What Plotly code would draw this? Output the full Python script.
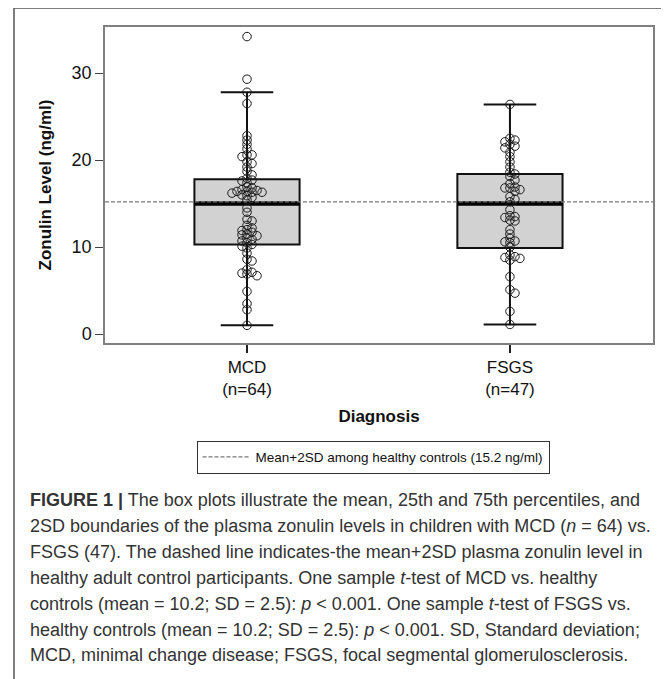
import plotly.graph_objects as go

# ---------------- data ----------------
categories = ["MCD", "FSGS"]
n_labels = ["(n=64)", "(n=47)"]

mcd_values = [34.2, 29.3, 27.8, 26.5,
              22.8, 22.3, 21.8, 21.3,
              20.6, 20.6, 20.4, 19.8, 19.6,
              19.2, 18.7, 18.3, 17.9, 17.7, 17.6, 17.4,
              16.9, 16.8, 16.6, 16.5, 16.4, 16.4, 16.3, 16.3, 16.2,
              16.0, 15.9, 15.7, 15.4, 14.5, 14.0,
              13.2, 13.0, 12.5, 12.2, 12.0, 11.9, 11.7, 11.5, 11.4, 11.3,
              11.0, 10.9, 10.7, 10.5, 10.3, 10.1, 9.9, 9.3,
              8.6, 8.4, 7.4, 7.1, 7.0, 6.9, 6.7,
              4.9, 3.5, 2.8, 1.0]

fsgs_values = [26.4,
               22.5, 22.3, 22.1, 21.8, 21.6, 21.4, 20.9, 20.4, 19.8, 19.2,
               18.6, 18.4, 18.1, 17.7, 17.3,
               16.9, 16.8, 16.8, 16.6, 16.4, 15.8, 15.5, 15.2,
               14.3, 13.6, 13.5, 13.4, 13.1, 13.0,
               12.0, 11.5, 11.0, 10.7, 10.6, 10.5, 10.0,
               9.1, 8.9, 8.8, 8.7, 8.5,
               6.6, 5.1, 4.7, 2.6, 1.1]

q1 = [10.3, 9.9]
median = [15.0, 15.0]
q3 = [17.8, 18.4]
lower_whisker = [1.0, 1.1]
upper_whisker = [27.8, 26.4]
reference_value = 15.2
reference_label = "Mean+2SD among healthy controls (15.2 ng/ml)"
y_ticks = [0, 10, 20, 30]

caption_lines = [
    "<b>FIGURE 1 |</b> The box plots illustrate the mean, 25th and 75th percentiles, and",
    "2SD boundaries of the plasma zonulin levels in children with MCD (<i>n</i> = 64) vs.",
    "FSGS (47). The dashed line indicates-the mean+2SD plasma zonulin level in",
    "healthy adult control participants. One sample <i>t</i>-test of MCD vs. healthy",
    "controls (mean = 10.2; SD = 2.5): <i>p</i> < 0.001. One sample <i>t</i>-test of FSGS vs.",
    "healthy controls (mean = 10.2; SD = 2.5): <i>p</i> < 0.001. SD, Standard deviation;",
    "MCD, minimal change disease; FSGS, focal segmental glomerulosclerosis.",
]

# ---------------- layout geometry ----------------
W, H = 669, 679
OFF = 8  # page body margin
L, R, T, B = 105 - OFF, 653 - OFF, 27 - OFF, 343 - OFF
x_range = [-0.54, 1.544]
y_range = [-1.03, 35.3]
box_width = 0.40
positions = list(range(len(categories)))

xpx = (R - L) / (x_range[1] - x_range[0])
ypx = (B - T) / (y_range[1] - y_range[0])


def px_x(x):  # page x -> paper
    return (x - OFF - L) / (R - L)


def px_y(y):  # page y -> paper
    return (B - (y - OFF)) / (B - T)


def swarm(values, pos, step=5.0, thr=4.0):
    placed, xs = [], []
    cands = [0]
    for i in range(1, 12):
        cands += [i, -i]
    for v in values:
        yp = v * ypx
        xp = 0.0
        for c in cands:
            xp = c * step
            if all((xp - a) ** 2 + (yp - b) ** 2 >= thr ** 2 for a, b in placed):
                break
        placed.append((xp, yp))
        xs.append(pos + xp / xpx)
    return xs


fig = go.Figure()

# boxes
for i, pos in enumerate(positions):
    fig.add_trace(go.Box(
        x=[pos], q1=[q1[i]], median=[median[i]], q3=[q3[i]],
        lowerfence=[lower_whisker[i]], upperfence=[upper_whisker[i]],
        width=box_width, whiskerwidth=0.5, boxpoints=False,
        fillcolor="#d2d2d2", line=dict(color="#111111", width=2),
        showlegend=False, hoverinfo="skip"))
    fig.add_trace(go.Scatter(
        x=[pos - box_width / 2, pos + box_width / 2], y=[median[i], median[i]],
        mode="lines", line=dict(color="#000000", width=4.5),
        showlegend=False, hoverinfo="skip"))

# reference line
fig.add_trace(go.Scatter(
    x=x_range, y=[reference_value, reference_value], mode="lines",
    line=dict(color="#7a7a7a", width=1.2, dash="4px,2px"),
    name=reference_label, showlegend=True, hoverinfo="skip"))

# points
for pos, vals in zip(positions, [mcd_values, fsgs_values]):
    order = sorted(vals, reverse=True)
    fig.add_trace(go.Scatter(
        x=swarm(order, pos), y=order, mode="markers",
        marker=dict(symbol="circle-open", size=8.5, color="#1a1a1a",
                    line=dict(width=1, color="#1a1a1a")),
        showlegend=False, hoverinfo="skip"))

# outer frame
fig.add_shape(type="rect", xref="paper", yref="paper",
              x0=px_x(14), x1=px_x(666), y0=px_y(720), y1=px_y(8),
              line=dict(color="#555555", width=1.5), fillcolor="rgba(0,0,0,0)",
              layer="below")

# caption
for k, line in enumerate(caption_lines):
    fig.add_annotation(text=line, xref="paper", yref="paper",
                       x=px_x(28), y=px_y(500 + k * 25.9),
                       xanchor="left", yanchor="middle", showarrow=False,
                       font=dict(family="Liberation Sans", size=18, color="#333333"))

fig.update_layout(
    width=W, height=H,
    margin=dict(l=L, r=W - R, t=T, b=H - B),
    paper_bgcolor="white", plot_bgcolor="white",
    font=dict(family="Liberation Sans", color="#111111"),
    showlegend=True,
    legend=dict(orientation="h", x=px_x(373), y=px_y(457), xanchor="center", yanchor="middle",
                bordercolor="#333333", borderwidth=1, font=dict(size=13.5, color="#111111"),
                bgcolor="white", itemwidth=48),
    xaxis=dict(range=x_range, tickvals=positions,
               ticktext=[f"{c}<br>{n}" for c, n in zip(categories, n_labels)],
               ticks="outside", ticklen=8, tickcolor="#222222", tickwidth=1.5,
               showline=True, mirror=True, linecolor="#808080", linewidth=1.5,
               showgrid=False, zeroline=False, tickfont=dict(size=17),
               title=dict(text="<b>Diagnosis</b>", font=dict(size=17), standoff=12)),
    yaxis=dict(range=y_range, tickvals=y_ticks,
               ticks="outside", ticklen=8, tickcolor="#444444", tickwidth=1.2,
               showline=True, mirror=True, linecolor="#808080", linewidth=1.5,
               showgrid=False, zeroline=False, tickfont=dict(size=18),
               title=dict(text="<b>Zonulin Level (ng/ml)</b>", font=dict(size=17), standoff=16)),
)

fig.write_html("out.html")
